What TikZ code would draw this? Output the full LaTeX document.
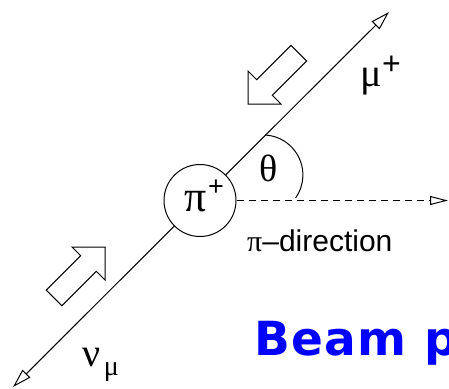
\documentclass[tikz,border=0pt]{standalone}
\usepackage{fontspec}
\setmainfont{Liberation Sans}
\newfontfamily\greekfont{Liberation Serif}
\newfontfamily\beamfont[LetterSpace=3]{DejaVu Sans}
\usetikzlibrary{arrows.meta}
\newcommand{\gr}[1]{{\greekfont #1}}
\newcommand{\fs}[1]{\fontsize{#1}{#1}\selectfont}
\tikzset{
	track/.style = {line width=1pt, -{Triangle[open, length=19pt, width=11pt]}},
	pidir/.style = {line width=1pt, dash pattern=on 7pt off 5pt, -{Triangle[open, length=18pt, width=9pt]}},
	fatarrow/.style = {line width=1pt, line join=miter},
	lbl/.style = {inner sep=0pt}
}

\begin{document}
\begin{tikzpicture}[x=1pt, y=-1pt]
	\useasboundingbox (0,0) rectangle (449,388);
	\node[circle, draw, line width=1pt, minimum size=72pt, inner sep=0pt] (pion) at (200,200.5) {};
	\coordinate (mutip) at (389,12);
	\coordinate (nutip) at (13,387);
	\coordinate (pitip) at (448,200.5);
	\coordinate (thetastart) at (265,135);
	\draw[track] (pion) -- (mutip);
	\draw[track] (pion) -- (nutip);
	\draw[pidir] (pion.east) -- (pitip);
	\draw[line width=1pt] (thetastart) arc[start angle=87, end angle=-35, radius=40pt];
	\draw[fatarrow] (248,104) -- (248,71) -- (256.7,79.7) -- (291,45.4) -- (306.6,61) -- (272.3,95.3) -- (281,104) -- cycle;
	\draw[fatarrow] (105,247) -- (72,247) -- (80.7,255.7) -- (46.3,290.1) -- (61.9,305.7) -- (96.3,271.3) -- (105,280) -- cycle;
	\node[lbl] (pisym) at (196,202) {\fs{44}\gr{π}};
	\node[lbl] (piplus) at (216,187.5) {\fs{27}+};
	\node[lbl] (theta) at (269,168.5) {\fs{38}\gr{θ}};
	\node[lbl] (mu) at (371,81.5) {\fs{40}\gr{μ}};
	\node[lbl] (muplus) at (391.5,65.5) {\fs{32}+};
	\node[lbl] (nu) at (91.5,358) {\fs{40}\gr{ν}};
	\node[lbl] (nusub) at (111.5,372.5) {\fs{28}\gr{μ}};
	\node[lbl, anchor=base west] (pidirlbl) at (247,251) {\fs{30}\gr{π}–direction};
	\node[lbl, anchor=base west, text=blue] (beam) at (254,355) {\fs{47}\beamfont\bfseries Beam p};
\end{tikzpicture}
\end{document}
